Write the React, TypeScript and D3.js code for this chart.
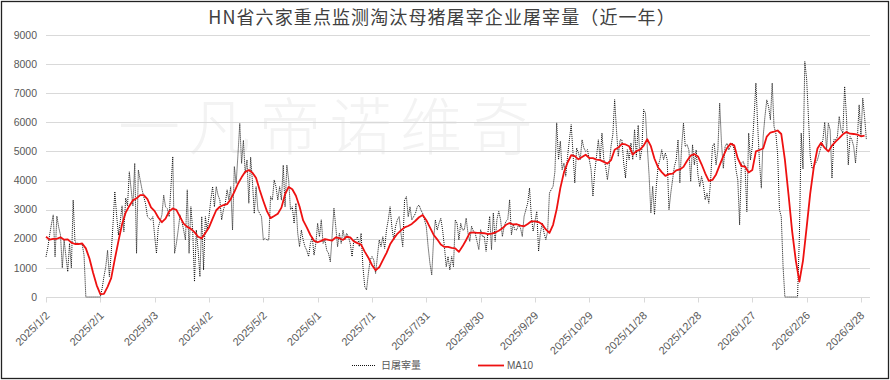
import React from 'react';
import * as d3 from 'd3';

const W = 890;
const H = 380;

const TITLE = 'HN省六家重点监测淘汰母猪屠宰企业屠宰量（近一年）';
const WATERMARK = '一凡帝诺维奇';
const SERIES_NAMES = ['日屠宰量', 'MA10'];

const START_DATE = '2025/1/2';
const AXIS_END_DATE = '2026/4/2';

const yTicks = [0, 1000, 2000, 3000, 4000, 5000, 6000, 7000, 8000, 9000];

const xTickLabels = [
  '2025/1/2', '2025/2/1', '2025/3/3', '2025/4/2', '2025/5/2', '2025/6/1',
  '2025/7/1', '2025/7/31', '2025/8/30', '2025/9/29', '2025/10/29', '2025/11/28',
  '2025/12/28', '2026/1/27', '2026/2/26', '2026/3/28',
];

// daily slaughter volume, one value per day from 2025/1/2
const dailyValues = [
  1380, 1700, 2130, 2500, 2820, 1380, 2780, 2400, 2130, 1000,
  1960, 1400, 870, 1840, 1000, 3330, 1900, 1850, 1840, 1820,
  1800, 1440, 0, 0, 0, 0, 0, 0, 0, 0,
  0, 300, 700, 1040, 1600, 700, 1500, 2500, 3620, 2800,
  2130, 2600, 3130, 2240, 3400, 3130, 4300, 3700, 3130, 4590,
  1500, 4360, 4020, 3700, 3440, 3200, 2760, 2700, 2640, 2760,
  2100, 1500, 2400, 2600, 2820, 3500, 3100, 3040, 2760, 3800,
  4820, 1500, 1840, 2300, 2820, 2600, 2300, 1960, 3680, 1500,
  3100, 2300, 530, 2300, 1610, 700, 2760, 930, 2760, 2300,
  2760, 3330, 3790, 3100, 3790, 3500, 3330, 2650, 3000, 3220,
  3680, 3330, 3790, 2300, 4480, 3900, 4900, 5960, 4590, 5380,
  4250, 4710, 3220, 4800, 3960, 2870, 3790, 2990, 2870, 2760,
  1960, 2020, 1960, 1960, 3450, 3330, 4020, 3790, 3330, 3790,
  3330, 4530, 3100, 4530, 4020, 3000, 3100, 2530, 3220, 2190,
  1730, 2300, 1960, 1730, 1600, 1390, 1840, 2070, 1440, 1840,
  2530, 2070, 2650, 1840, 1960, 1610, 1500, 1210, 2100, 3050,
  2420, 1730, 2190, 1840, 2300, 1960, 2190, 2070, 1840, 1390,
  1960, 1960, 2070, 1730, 2190, 1040, 360, 240, 810, 1270,
  1390, 1270, 810, 1390, 1960, 1730, 2070, 1670, 2300, 2650,
  3100, 2400, 1960, 2420, 2650, 2760, 2190, 1730, 3330, 3450,
  2760, 3100, 2650, 2760, 2870, 3100, 3160, 2990, 2870, 2650,
  2420, 1730, 1160, 760, 1960, 2650, 2300, 2530, 2700, 2300,
  1730, 1040, 1390, 930, 1390, 1040, 2650, 2530, 1960, 2530,
  2300, 2310, 2710, 2200, 1910, 2430, 2260, 2200, 1910, 1630,
  2310, 2080, 2080, 1570, 2200, 2770, 1630, 2890, 1910, 2660,
  2940, 2660, 2080, 2430, 2600, 2660, 3340, 2140, 2490, 2300,
  2310, 2490, 2370, 2080, 2770, 3000, 3230, 3740, 2770, 2260,
  2600, 2940, 1570, 2200, 2540, 2200, 1970, 2260, 3570, 3690,
  3800, 4300, 5980, 4720, 5350, 4370, 4600, 4150, 4830, 5400,
  5920, 4950, 3920, 5120, 4950, 4720, 5400, 5120, 5000, 5060,
  4720, 4370, 3460, 4300, 4830, 5400, 4720, 5630, 4720, 4490,
  4030, 4490, 5180, 5580, 6780, 5750, 4830, 5400, 5400, 4600,
  4090, 5060, 4720, 5290, 4720, 5750, 4830, 5900, 4720, 5060,
  6440, 6320, 5180, 4200, 2890, 3800, 2830, 3800, 4490, 4720,
  5060, 4720, 4950, 4720, 3000, 3570, 4030, 4490, 4720, 5400,
  3920, 5170, 5970, 5170, 5230, 5050, 3970, 5230, 4540, 5050,
  4200, 3790, 4140, 3850, 3340, 3560, 3220, 4020, 5170, 5280,
  4540, 5050, 6660, 5280, 4420, 5170, 5280, 5050, 5170, 5280,
  5050, 4370, 4020, 2480, 4600, 4650, 4480, 2930, 5630, 4710,
  5170, 6200, 7350, 5860, 4600, 3740, 5510, 6200, 6770, 6540,
  6090, 7350, 5860, 5630, 4900, 3000, 2760, 1040, 0, 0,
  0, 0, 0, 0, 0, 0, 2070, 5630, 4400, 8090,
  7500, 6200, 4830, 4420, 4480, 4600, 4710, 4940, 5170, 5400,
  6000, 5050, 5970, 5740, 4080, 5400, 5400, 5510, 6200, 5740,
  5630, 7230, 6200, 4540, 5510, 5400, 5170, 4600, 5400, 6600,
  5510, 6830, 6200, 5400,
];

// MA10, one value every 2 days from 2025/1/2
const MA_STEP_DAYS = 2;
const ma10Values = [
  2070, 1970, 2000, 2000, 2050, 1970, 1980, 1870, 1820, 1820,
  1840, 1670, 1320, 830, 400, 100, 110, 350, 650, 1300,
  1920, 2500, 2900, 3130, 3320, 3390, 3500, 3500, 3360, 3080,
  2950, 2730, 2570, 2690, 2940, 3040, 2990, 2750, 2520, 2410,
  2340, 2230, 2070, 2015, 2200, 2390, 2690, 2980, 3100, 3160,
  3190, 3360, 3610, 3890, 4110, 4300, 4360, 4270, 4090, 3675,
  3300, 2950, 2710, 2780, 2860, 3070, 3530, 3780, 3700, 3480,
  3110, 2630, 2390, 2130, 1930, 1880, 1930, 1990, 1960, 1940,
  2050, 2020, 1960, 2070, 2050, 1910, 1850, 1800, 1560, 1350,
  1100, 920, 1020, 1270, 1510, 1810, 2000, 2170, 2290, 2390,
  2440, 2510, 2620, 2740, 2815, 2640, 2390, 2140, 1980, 1800,
  1720, 1720, 1690, 1670, 1550, 1740, 1960, 2200, 2220, 2200,
  2200, 2190, 2160, 2180, 2215, 2275, 2360, 2480, 2540, 2490,
  2500, 2450, 2430, 2510, 2600, 2600, 2575, 2500, 2320, 2200,
  2480, 3020, 3740, 4280, 4620, 4870, 4840, 4730, 4810, 4885,
  4775, 4770, 4720, 4700, 4640, 4580, 4700, 5060, 5135, 5260,
  5240, 5180, 4890, 5010, 5060, 5200, 5420, 5180, 4750, 4450,
  4290, 4160, 4220, 4240, 4350, 4380, 4470, 4680, 4860, 4910,
  4830, 4560, 4250, 3990, 4020, 4210, 4530, 4840, 5110, 5270,
  5210, 4760, 4500, 4480, 4280, 4360, 5000, 5050, 5100, 5510,
  5650, 5680, 5720, 5600, 4720, 3520, 2260, 1270, 530, 1250,
  2380, 3560, 4480, 5100, 5300, 5120, 5000, 5200, 5340, 5460,
  5590, 5670, 5610, 5600, 5580, 5520, 5545,
];

const DAY_MS = 86400000;
const parseLabel = (s: string) => {
  const [yy, mm, dd] = s.split('/').map(Number);
  return new Date(Date.UTC(yy, mm - 1, dd));
};
const startDate = parseLabel(START_DATE);
const dayDate = (i: number) => new Date(startDate.getTime() + i * DAY_MS);

const LABEL_FONT = '"Liberation Sans", Arial, sans-serif';
const CJK_FONT = '"Noto Sans CJK SC", "Noto Sans", sans-serif';
const TEXT_COLOR = '#595959';
const GRID_COLOR = '#d9d9d9';

export default function App() {
  const plotLeft = 46;
  const plotRight = 870;
  const plotTop = 35;
  const plotBottom = 297;

  const x = d3
    .scaleUtc()
    .domain([startDate, parseLabel(AXIS_END_DATE)])
    .range([plotLeft, plotRight]);
  const y = d3.scaleLinear().domain([0, 9000]).range([plotBottom, plotTop]);

  const rawLine = d3
    .line<number>()
    .x((_, i) => x(dayDate(i)))
    .y((v) => y(v));
  const maLine = d3
    .line<number>()
    .x((_, i) => x(dayDate(i * MA_STEP_DAYS)))
    .y((v) => y(v));

  const crisp = (v: number) => Math.round(v) + 0.5;

  return (
    <svg
      width={W}
      height={H}
      viewBox={`0 0 ${W} ${H}`}
      style={{ position: 'absolute', left: 0, top: 0, background: '#fff' }}
    >
      <rect x={0} y={0} width={W} height={H} fill="#fff" />
      <rect x={1.5} y={1.5} width={W - 3} height={H - 3} fill="none" stroke="#222" strokeWidth={1.3} />

      <text
        x={118}
        y={150}
        fontFamily={CJK_FONT}
        fontSize={62}
        fontWeight={300}
        letterSpacing={8.5}
        fill="#f3f3f3"
      >
        {WATERMARK}
      </text>

      <text
        x={442}
        y={24}
        textAnchor="middle"
        fontFamily={CJK_FONT}
        fontSize={18}
        letterSpacing={1.1}
        fill="#404040"
      >
        {TITLE}
      </text>

      {yTicks.map((t) => (
        <g key={t}>
          {t > 0 && (
            <line
              x1={plotLeft}
              x2={plotRight}
              y1={crisp(y(t))}
              y2={crisp(y(t))}
              stroke={GRID_COLOR}
              strokeWidth={1}
            />
          )}
          <text
            x={37}
            y={y(t)}
            dy="0.35em"
            textAnchor="end"
            fontFamily={LABEL_FONT}
            fontSize={10.5}
            fill={TEXT_COLOR}
          >
            {t}
          </text>
        </g>
      ))}

      <line
        x1={plotLeft}
        x2={plotRight}
        y1={crisp(y(0))}
        y2={crisp(y(0))}
        stroke={GRID_COLOR}
        strokeWidth={1}
      />

      {xTickLabels.map((lab) => {
        const px = x(parseLabel(lab));
        return (
          <g key={lab}>
            <line
              x1={crisp(px)}
              x2={crisp(px)}
              y1={crisp(y(0))}
              y2={crisp(y(0)) + 5}
              stroke={GRID_COLOR}
              strokeWidth={1}
            />
            <text
              transform={`translate(${px + 1.5},313.5) rotate(-45)`}
              textAnchor="end"
              dy="0.35em"
              fontFamily={LABEL_FONT}
              fontSize={11}
              fill={TEXT_COLOR}
            >
              {lab}
            </text>
          </g>
        );
      })}

      <path
        d={rawLine(dailyValues) || ''}
        fill="none"
        stroke="#111"
        strokeWidth={1}
        strokeDasharray="1,1"
      />
      <path
        d={maLine(ma10Values) || ''}
        fill="none"
        stroke="#ee1111"
        strokeWidth={1.8}
        strokeLinejoin="round"
      />

      <line x1={352} x2={376} y1={365.5} y2={365.5} stroke="#111" strokeWidth={1} strokeDasharray="1,1" />
      <text x={381} y={365.5} dy="0.35em" fontFamily={CJK_FONT} fontSize={10} fill={TEXT_COLOR}>
        {SERIES_NAMES[0]}
      </text>
      <line x1={478} x2={504} y1={365.5} y2={365.5} stroke="#ee1111" strokeWidth={1.8} />
      <text x={507} y={365.5} dy="0.35em" fontFamily={LABEL_FONT} fontSize={10} fill={TEXT_COLOR}>
        {SERIES_NAMES[1]}
      </text>
    </svg>
  );
}
